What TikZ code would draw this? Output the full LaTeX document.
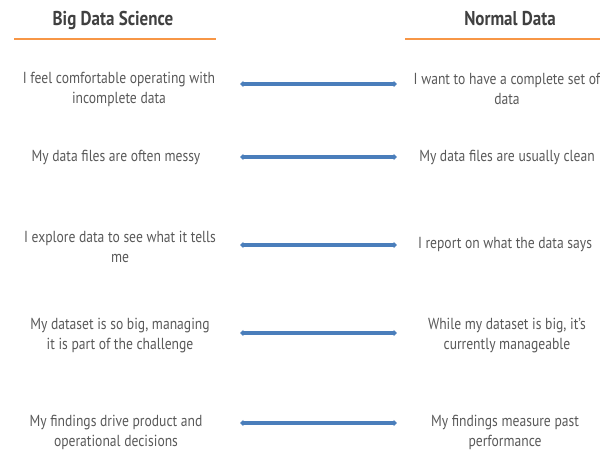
\documentclass[tikz,border=0pt]{standalone}
\usepackage{fontspec}
\setmainfont{PT Sans}[FakeStretch=0.85]
\usetikzlibrary{arrows.meta}
\definecolor{ruleorange}{RGB}{247,150,70}
\definecolor{linkblue}{RGB}{74,126,187}
\definecolor{textgray}{RGB}{89,89,89}
\definecolor{headgray}{RGB}{64,64,64}
\tikzset{
  head/.style={text=headgray, font=\bfseries\fontsize{15}{17}\selectfont},
  item/.style={text=textgray, align=center, font=\fontsize{12}{15}\selectfont},
  headrule/.style={ruleorange, line width=1.5pt},
  link/.style={linkblue, line width=2.4pt, {Triangle[width=4.6pt,length=2.6pt]}-{Triangle[width=4.6pt,length=2.6pt]}}
}
\begin{document}
\begin{tikzpicture}[x=0.75pt,y=-0.75pt]
  \useasboundingbox (0,0) rectangle (600,450);
  % column heads
  \node[head] (bighead) at (113,20) {Big Data Science};
  \node[head] (normhead) at (510,19) {Normal Data};
  \coordinate (bigruleL) at (14,39);
  \coordinate (bigruleR) at (216,39);
  \coordinate (normruleL) at (405,39);
  \coordinate (normruleR) at (600,39);
  \draw[headrule] (bigruleL) -- (bigruleR);
  \draw[headrule] (normruleL) -- (normruleR);

  \node[item] (big1) at (119,89) {I feel comfortable operating with\\incomplete data};
  \node[item] (norm1) at (507,89) {I want to have a complete set of\\data};
  \coordinate (l1) at (240,84);
  \coordinate (r1) at (397,84);
  \draw[link] (l1) -- (r1);

  \node[item] (big2) at (116,157) {My data files are often messy};
  \node[item] (norm2) at (507,157) {My data files are usually clean};
  \coordinate (l2) at (240,157);
  \coordinate (r2) at (397,157);
  \draw[link] (l2) -- (r2);

  \node[item] (big3) at (120,247) {I explore data to see what it tells\\me};
  \node[item] (norm3) at (505,245) {I report on what the data says};
  \coordinate (l3) at (240,245);
  \coordinate (r3) at (397,245);
  \draw[link] (l3) -- (r3);

  \node[item] (big4) at (120,336) {My dataset is so big, managing\\it is part of the challenge};
  \node[item] (norm4) at (507,336) {While my dataset is big, it’s\\currently manageable};
  \coordinate (l4) at (240,333);
  \coordinate (r4) at (397,333);
  \draw[link] (l4) -- (r4);

  \node[item] (big5) at (116,432) {My findings drive product and\\operational decisions};
  \node[item] (norm5) at (505,432) {My findings measure past\\performance};
  \coordinate (l5) at (240,423);
  \coordinate (r5) at (397,423);
  \draw[link] (l5) -- (r5);
\end{tikzpicture}
\end{document}
